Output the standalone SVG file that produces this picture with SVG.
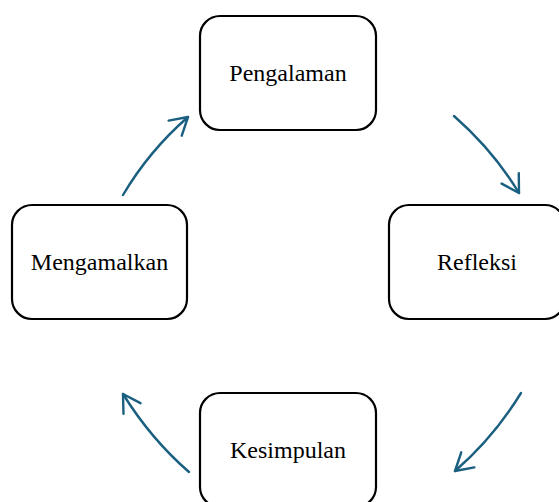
<svg xmlns="http://www.w3.org/2000/svg" width="559" height="502" viewBox="0 0 559 502">
  <style>
    .box { fill: #ffffff; stroke: #000000; stroke-width: 2.2; }
    .label { font-family: "Liberation Serif", "Times New Roman", serif; font-size: 24px; fill: #000000; text-anchor: middle; }
    .flow { fill: none; stroke: #1a5f80; stroke-width: 2.4; stroke-linecap: round; marker-end: url(#head); }
  </style>
  <defs>
    <marker id="head" viewBox="-21 -12 23 24" refX="0" refY="0" markerWidth="23" markerHeight="24" markerUnits="userSpaceOnUse" orient="auto">
      <path d="M -17 -10 L 0 0 L -17 10" fill="none" stroke="#1a5f80" stroke-width="2.4" stroke-linecap="round" stroke-linejoin="round"/>
    </marker>
  </defs>
  <rect width="559" height="502" fill="#ffffff"/>

  <g id="connectors">
    <path class="flow" d="M 454 116 Q 493.5 150.7 519 193"/>
    <path class="flow" d="M 521 393 Q 494 437 455 471"/>
    <path class="flow" d="M 189 472 Q 151 439 123 394"/>
    <path class="flow" d="M 123 195 Q 149 151 188 117"/>
  </g>

  <g id="pengalaman">
    <rect class="box" x="200" y="16" width="176" height="114" rx="20"/>
    <text class="label" x="288" y="81">Pengalaman</text>
  </g>
  <g id="refleksi">
    <rect class="box" x="389" y="205" width="176" height="114" rx="20"/>
    <text class="label" x="477" y="270">Refleksi</text>
  </g>
  <g id="kesimpulan">
    <rect class="box" x="200" y="393" width="176" height="114" rx="20"/>
    <text class="label" x="288" y="458">Kesimpulan</text>
  </g>
  <g id="mengamalkan">
    <rect class="box" x="12" y="205" width="175" height="114" rx="20"/>
    <text class="label" x="99.5" y="270">Mengamalkan</text>
  </g>
</svg>
